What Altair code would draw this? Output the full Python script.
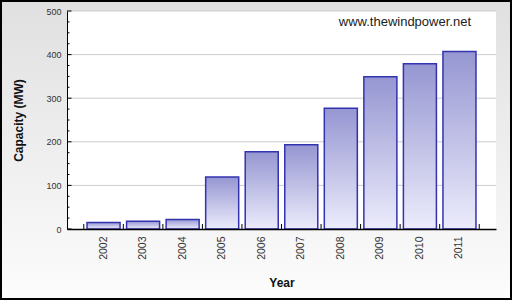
import altair as alt
import pandas as pd

years = ["2002", "2003", "2004", "2005", "2006", "2007", "2008", "2009", "2010", "2011"]
capacity = [15, 18, 22, 119, 177, 193, 277, 349, 379, 407]
y_major = [0, 100, 200, 300, 400, 500]
y_minor = [25, 50, 75, 125, 150, 175, 225, 250, 275, 325, 350, 375, 425, 450, 475]
grid_values = [100, 200, 300, 400, 500]
watermark = "www.thewindpower.net"

W, H = 429, 218
PAD = {"left": 67, "top": 11, "right": 16, "bottom": 71}
FONT = "Liberation Sans"

df = pd.DataFrame({"year": years, "capacity": capacity})
one = alt.Data(values=[{"a": 1}])

x_scale = alt.Scale(paddingInner=0, paddingOuter=0.424)
y_scale = alt.Scale(domain=[0, 500], nice=False)

y_axis = alt.Axis(values=y_major, ticks=False, grid=False, domainColor="#000000",
                  domainWidth=1, labelFont=FONT, labelFontSize=9, labelColor="#333333",
                  labelPadding=6, title="Capacity (MW)", titleFont=FONT, titleFontSize=12,
                  titleFontWeight="bold", titleColor="#111111", titlePadding=20, zindex=1)
x_axis = alt.Axis(ticks=False, grid=False, domainColor="#000000", domainWidth=1.5,
                  labelAngle=-90, labelFont=FONT, labelFontSize=10.5, labelColor="#333333",
                  labelPadding=7, title="Year", titleFont=FONT, titleFontSize=12,
                  titleFontWeight="bold", titleColor="#111111", titlePadding=18, zindex=1)

Y = lambda: alt.Y("capacity:Q", scale=y_scale, axis=y_axis)

bg_grad = alt.LinearGradient(gradient="linear",
                             stops=[alt.GradientStop(color="#e0e0e0", offset=0),
                                    alt.GradientStop(color="#fcfcfc", offset=1)],
                             x1=0, x2=0, y1=0, y2=1)
bar_grad = alt.LinearGradient(gradient="linear",
                              stops=[alt.GradientStop(color="#9696d2", offset=0),
                                     alt.GradientStop(color="#ececfc", offset=1)],
                              x1=0, x2=0, y1=0, y2=1)

bg = alt.Chart(one).mark_rect(fill=bg_grad, stroke="#000000", strokeWidth=2).encode(
    x=alt.value(-PAD["left"] + 1), x2=alt.value(W + PAD["right"] - 1),
    y=alt.value(-PAD["top"] + 1), y2=alt.value(H + PAD["bottom"] - 1))

plot_bg = alt.Chart(one).mark_rect(fill="#ffffff").encode(
    x=alt.value(0), x2=alt.value(W), y=alt.value(0), y2=alt.value(H))

grid = alt.Chart(pd.DataFrame({"capacity": grid_values})).mark_rule(
    color="#cccccc", strokeWidth=1).encode(y=Y(), x=alt.value(0), x2=alt.value(W))

bars = alt.Chart(df).mark_bar(fill=bar_grad, stroke="#3333b0", strokeWidth=1.5,
                              width=alt.RelativeBandSize(0.835)).encode(
    x=alt.X("year:N", scale=x_scale, axis=x_axis, sort=years),
    y=Y())

yt_major = alt.Chart(pd.DataFrame({"capacity": y_major})).mark_rule(
    color="#000000", strokeWidth=1).encode(y=Y(), x=alt.value(0), x2=alt.value(4.5))
yt_minor = alt.Chart(pd.DataFrame({"capacity": y_minor})).mark_rule(
    color="#000000", strokeWidth=1).encode(y=Y(), x=alt.value(0), x2=alt.value(2.5))

xt = alt.Chart(df).mark_rule(color="#000000", strokeWidth=1).encode(
    x=alt.X("year:N", scale=x_scale, axis=x_axis, sort=years, bandPosition=0),
    y=alt.value(H - 5), y2=alt.value(H))
xt_end = alt.Chart(df).transform_filter(alt.datum.year == years[-1]).mark_rule(
    color="#000000", strokeWidth=1).encode(
    x=alt.X("year:N", scale=x_scale, axis=x_axis, sort=years, bandPosition=1),
    y=alt.value(H - 5), y2=alt.value(H))

text = alt.Chart(one).mark_text(text=watermark, align="right", baseline="alphabetic",
                                font=FONT, fontSize=13, color="#222222").encode(
    x=alt.value(404), y=alt.value(14.5))

chart = alt.layer(bg, plot_bg, grid, bars, yt_major, yt_minor, xt, xt_end, text).properties(
    width=W, height=H, autosize=alt.AutoSizeParams(type="none"), padding=PAD
).configure_view(stroke=None)

chart.save("out.html", embed_options={"renderer": "svg", "actions": False})
